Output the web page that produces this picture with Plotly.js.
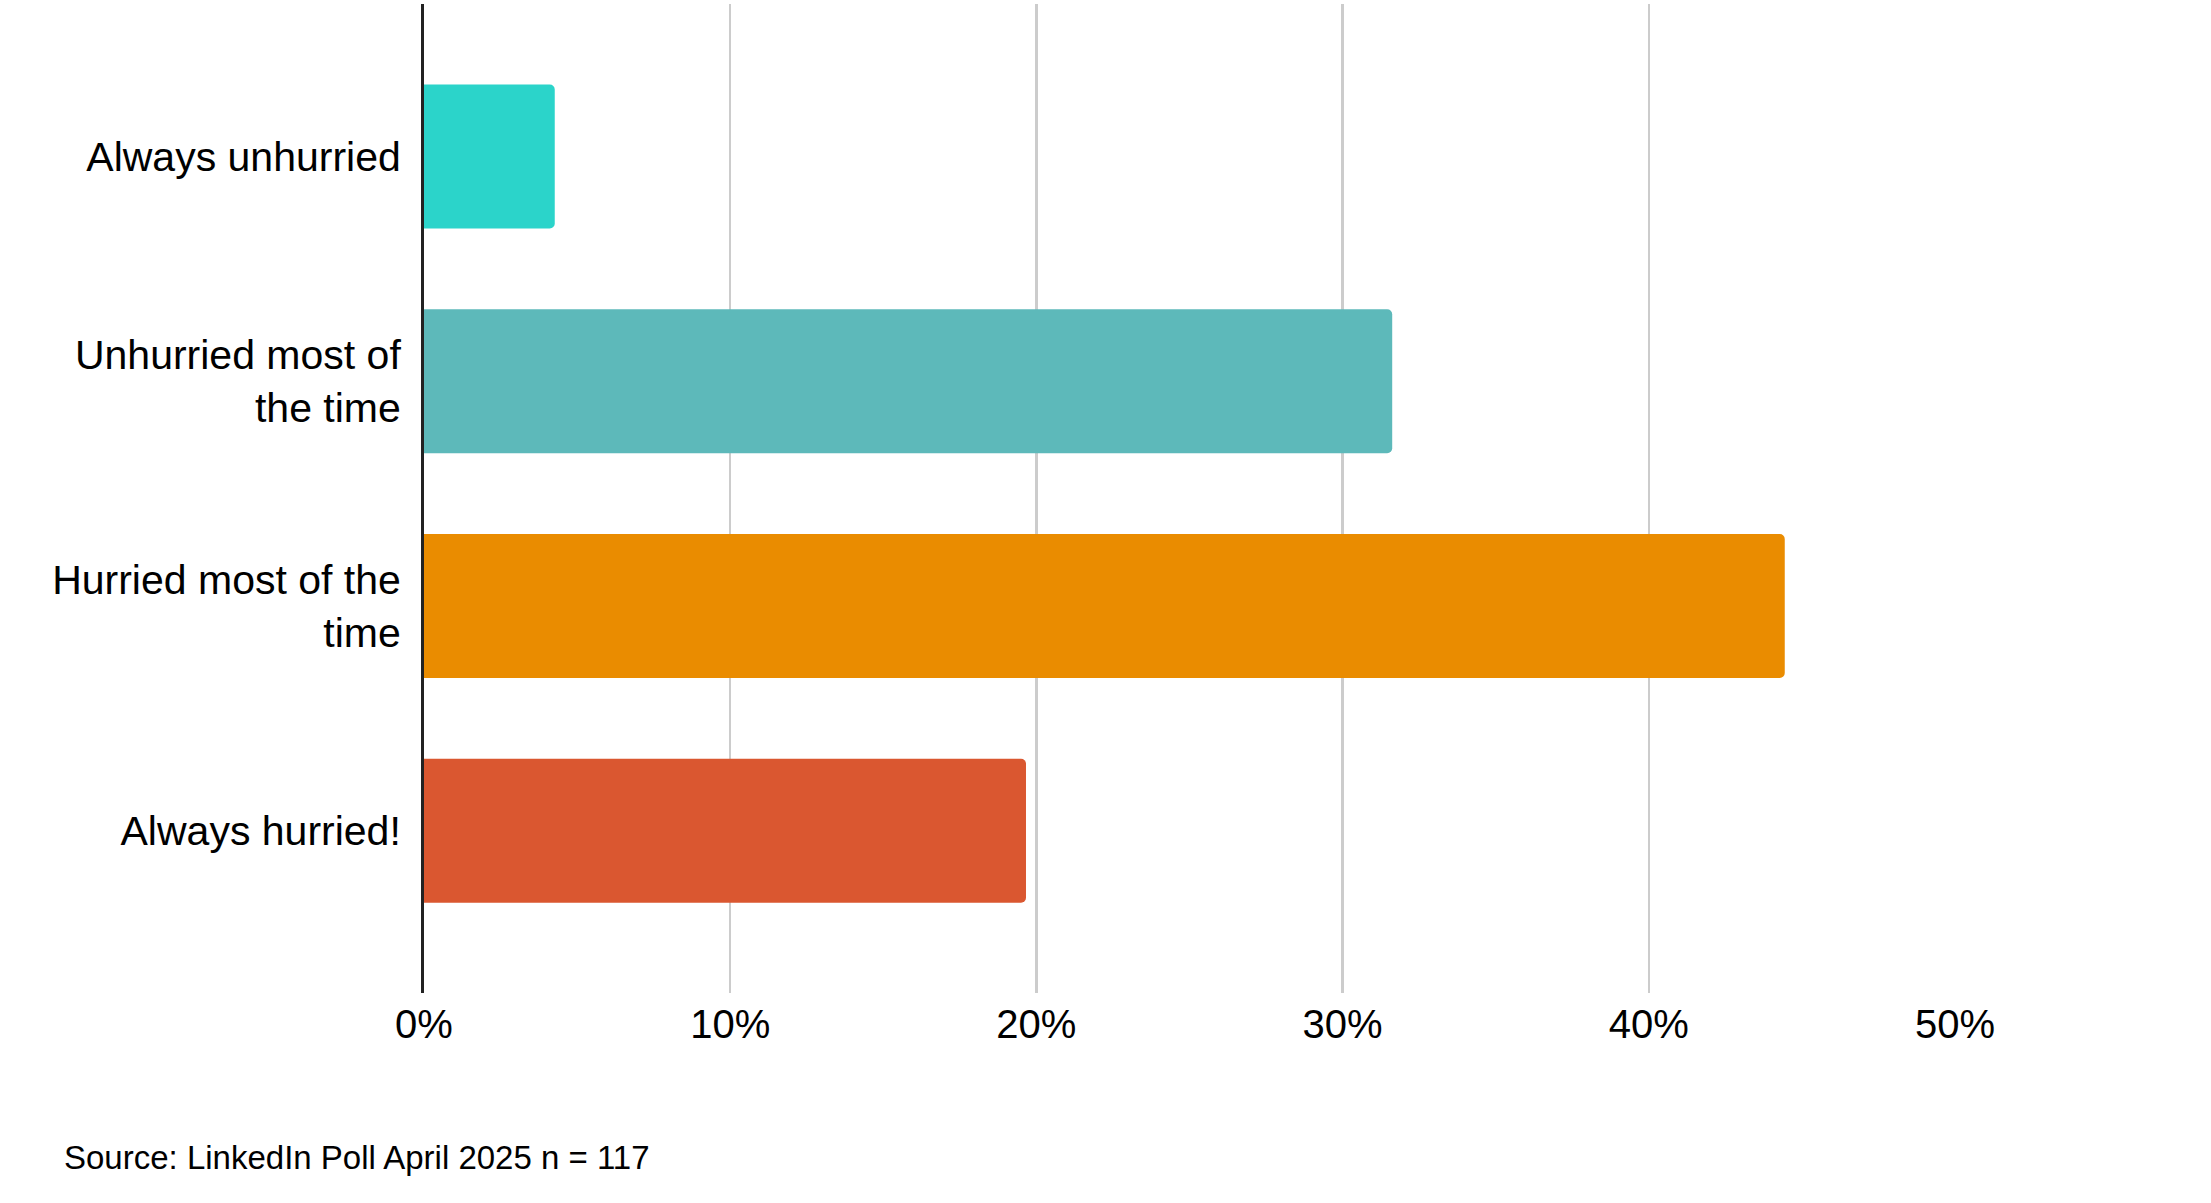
<!DOCTYPE html>
<html>
<head>
<meta charset="utf-8">
<script src="https://cdn.plot.ly/plotly-3.0.1.min.js"></script>
<style>
  html, body { margin: 0; padding: 0; background: #fff; }
  #chart { width: 2211px; height: 1203px; }
</style>
</head>
<body>
<div id="chart"></div>
<script>
// poll answers, top to bottom
const answers = [
  "Always unhurried",
  "Unhurried most of<br>the time",
  "Hurried most of the<br>time",
  "Always hurried!"
];
const shares = [4.27, 31.62, 44.44, 19.66]; // % of 117 votes
const barColors = ["#2bd4ca", "#5db9ba", "#ea8c00", "#da5730"];
const xTicks = [0, 10, 20, 30, 40, 50];
const xTickLabels = ["0%", "10%", "20%", "30%", "40%", "50%"];
const sourceNote = "Source: LinkedIn Poll April 2025 n = 117";

const font = "Liberation Sans, Arial, Helvetica, sans-serif";

var trace = {
  type: "bar",
  orientation: "h",
  y: answers,
  x: shares,
  marker: { color: barColors, line: { width: 0 } },
  hoverinfo: "none"
};

var layout = {
  width: 2211,
  height: 1203,
  margin: { l: 424, r: 256, t: 4, b: 210 },
  paper_bgcolor: "#fff",
  plot_bgcolor: "#fff",
  font: { family: font, color: "#000" },
  showlegend: false,
  bargap: 0.36,
  barcornerradius: 5,
  xaxis: {
    range: [0, 50],
    tickmode: "array",
    tickvals: xTicks,
    ticktext: xTickLabels,
    showgrid: true,
    gridcolor: "#cccccc",
    gridwidth: 2.5,
    zeroline: false,
    showline: false,
    ticks: "",
    ticklabelstandoff: 4,
    tickfont: { size: 40, family: font, color: "#000" }
  },
  yaxis: {
    type: "category",
    range: [3.722, -0.6785],
    showgrid: false,
    zeroline: false,
    showline: true,
    linecolor: "#222",
    linewidth: 3,
    ticks: "",
    ticklabelstandoff: 12,
    tickfont: { size: 41, family: font, color: "#000" }
  },
  annotations: [{
    text: sourceNote,
    xref: "paper",
    yref: "paper",
    x: -362 / 1531,
    y: -164 / 989,
    xanchor: "left",
    yanchor: "middle",
    showarrow: false,
    font: { size: 33, family: font, color: "#000" }
  }]
};

Plotly.newPlot("chart", [trace], layout, { displayModeBar: false, staticPlot: true });
</script>
</body>
</html>
